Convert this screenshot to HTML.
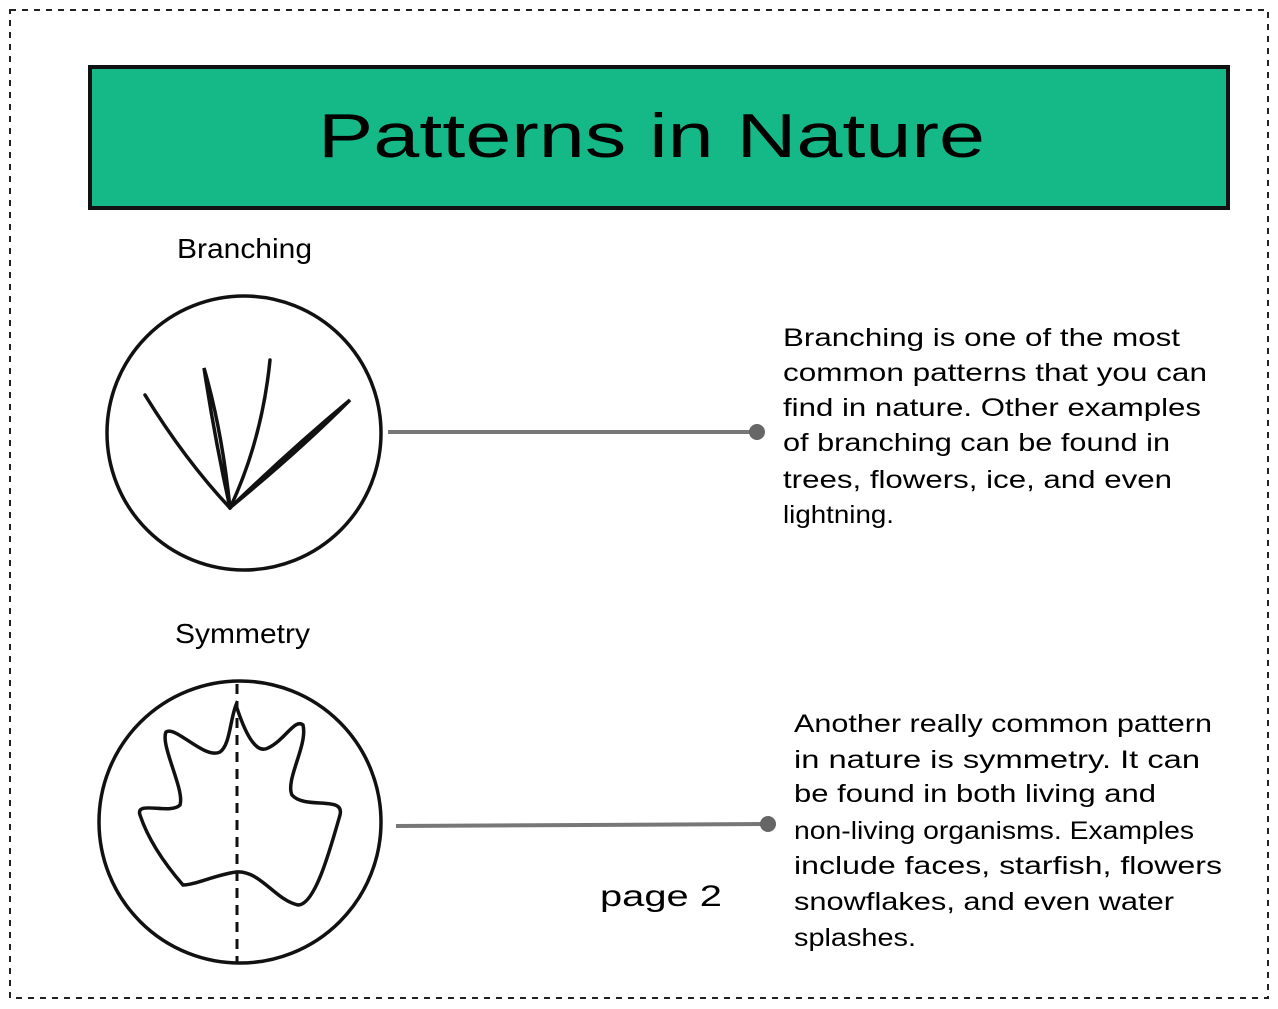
<!DOCTYPE html>
<html><head><meta charset="utf-8"><style>
html,body{margin:0;padding:0;background:#fff;}
svg{display:block}
text{font-family:"Liberation Sans",sans-serif;fill:#000}
</style></head><body>
<svg width="1278" height="1009" viewBox="0 0 1278 1009" xmlns="http://www.w3.org/2000/svg">
<rect x="10" y="10" width="1258" height="988" fill="none" stroke="#222" stroke-width="2" stroke-dasharray="6,6"/>
<rect x="90" y="67" width="1138" height="141" fill="#15b887" stroke="#111" stroke-width="4"/>
<text x="318" y="157" font-size="62" textLength="667" lengthAdjust="spacingAndGlyphs">Patterns in Nature</text>
<text x="177" y="258" font-size="28" textLength="135" lengthAdjust="spacingAndGlyphs">Branching</text>
<circle cx="244" cy="433" r="137" fill="none" stroke="#111" stroke-width="3.5"/>
<g stroke="#111" stroke-width="3.5" fill="none" stroke-linecap="round">
<path d="M230 508 Q185 460 145 395"/>
<path d="M230 508 Q215 440 204 368 Q222 430 230 508"/>
<path d="M230 508 Q262 440 270 360"/>
<path d="M230 508 Q290 450 350 400 Q300 450 232 506"/>
</g>
<line x1="388" y1="432" x2="757" y2="432" stroke="#777" stroke-width="4"/>
<circle cx="757" cy="432" r="8" fill="#666"/>
<g font-size="25">
<text x="783" y="346" textLength="397" lengthAdjust="spacingAndGlyphs">Branching is one of the most</text>
<text x="783" y="381" textLength="424" lengthAdjust="spacingAndGlyphs">common patterns that you can</text>
<text x="783" y="416" textLength="418" lengthAdjust="spacingAndGlyphs">find in nature. Other examples</text>
<text x="783" y="451" textLength="387" lengthAdjust="spacingAndGlyphs">of branching can be found in</text>
<text x="783" y="488" textLength="389" lengthAdjust="spacingAndGlyphs">trees, flowers, ice, and even</text>
<text x="783" y="523" textLength="111" lengthAdjust="spacingAndGlyphs">lightning.</text>
</g>
<text x="175" y="643" font-size="28" textLength="135" lengthAdjust="spacingAndGlyphs">Symmetry</text>
<circle cx="240" cy="822" r="141" fill="none" stroke="#111" stroke-width="3.5"/>
<line x1="237" y1="684" x2="237" y2="962" stroke="#111" stroke-width="3" stroke-dasharray="10,7"/>
<path d="M236 705 C244 730 255 755 268 748 C285 740 295 718 303 725 C308 745 285 780 292 795 C305 810 345 795 340 815 C330 850 315 905 298 905 C275 900 260 870 236 872 C215 875 195 885 183 885 C170 870 150 845 140 815 C135 800 170 815 180 805 C185 790 160 745 166 732 C175 725 205 760 220 752 C230 745 230 720 236 705 Z" fill="none" stroke="#111" stroke-width="3.5"/>
<line x1="396" y1="826" x2="768" y2="824" stroke="#777" stroke-width="4"/>
<circle cx="768" cy="824" r="8" fill="#666"/>
<g font-size="25">
<text x="794" y="732" textLength="418" lengthAdjust="spacingAndGlyphs">Another really common pattern</text>
<text x="794" y="768" textLength="406" lengthAdjust="spacingAndGlyphs">in nature is symmetry. It can</text>
<text x="794" y="802" textLength="362" lengthAdjust="spacingAndGlyphs">be found in both living and</text>
<text x="794" y="839" textLength="400" lengthAdjust="spacingAndGlyphs">non-living organisms. Examples</text>
<text x="794" y="874" textLength="428" lengthAdjust="spacingAndGlyphs">include faces, starfish, flowers</text>
<text x="794" y="910" textLength="380" lengthAdjust="spacingAndGlyphs">snowflakes, and even water</text>
<text x="794" y="946" textLength="122" lengthAdjust="spacingAndGlyphs">splashes.</text>
</g>
<text x="600" y="906" font-size="30" textLength="122" lengthAdjust="spacingAndGlyphs">page 2</text>
</svg>
</body></html>
